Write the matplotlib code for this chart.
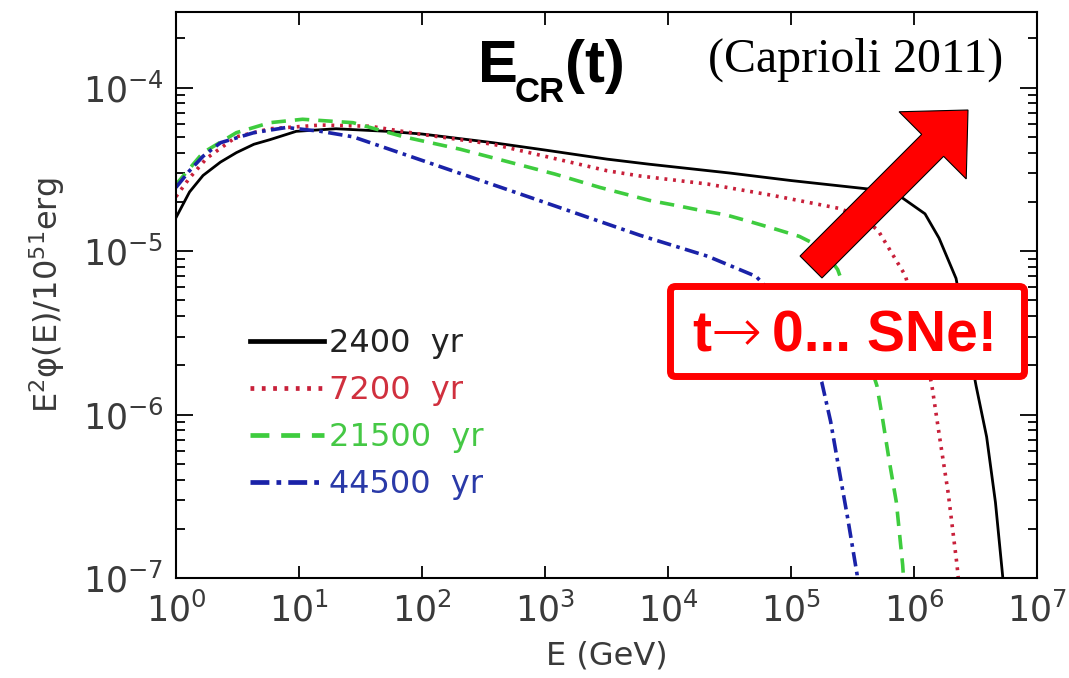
import matplotlib.pyplot as plt
from matplotlib.patches import FancyArrow, FancyBboxPatch
from matplotlib.ticker import LogLocator, NullLocator

# E (GeV) and E^2 phi(E) / 1e51 erg for each SNR age
E_2400 = [1.0, 1.29, 1.66, 2.3, 3.1, 4.3, 5.8, 9.5, 20, 52, 100, 380, 1e3, 3.2e3,
          7e3, 3.2e4, 1e5, 4.2e5, 7.8e5, 1.23e6, 1.6e6, 2.2e6, 3.2e6, 3.9e6, 4.6e6,
          5.25e6, 5.6e6]
phi_2400 = [1.6e-5, 2.3e-5, 2.9e-5, 3.5e-5, 4.0e-5, 4.5e-5, 4.8e-5, 5.4e-5, 5.6e-5,
            5.4e-5, 5.2e-5, 4.6e-5, 4.15e-5, 3.65e-5, 3.4e-5, 3.0e-5, 2.7e-5, 2.4e-5,
            2.15e-5, 1.69e-5, 1.2e-5, 6.8e-6, 1.5e-6, 7.3e-7, 2.9e-7, 1.05e-7, 6e-8]

E_7200 = [1.0, 1.29, 1.78, 3.1, 5.8, 15, 38, 95, 380, 1e3, 3.2e3, 5.9e3, 2.1e4, 7.1e4,
          2.5e5, 3.8e5, 5.1e5, 8.5e5, 1.1e6, 1.4e6, 1.62e6, 1.9e6, 2.24e6, 2.45e6]
phi_7200 = [2.15e-5, 2.8e-5, 3.7e-5, 5.0e-5, 5.6e-5, 5.9e-5, 5.8e-5, 5.2e-5, 4.5e-5,
            3.8e-5, 3.1e-5, 2.88e-5, 2.57e-5, 2.19e-5, 1.82e-5, 1.6e-5, 1.34e-5, 7.1e-6,
            3.6e-6, 1.5e-6, 7.2e-7, 3.3e-7, 1.2e-7, 6e-8]

E_21500 = [1.0, 1.66, 3.1, 5.8, 10.7, 27.5, 71, 204, 1.2e3, 2.8e3, 7.1e3, 1.17e4,
           1.8e4, 3.0e4, 4.7e4, 7.8e4, 1.17e5, 1.78e5, 2.4e5, 3.5e5, 5.0e5, 5.6e5,
           6.3e5, 7.2e5, 8.1e5, 8.6e5]
phi_21500 = [2.55e-5, 4.0e-5, 5.3e-5, 6.1e-5, 6.4e-5, 6.1e-5, 5.0e-5, 4.2e-5, 2.96e-5,
             2.45e-5, 2.04e-5, 1.9e-5, 1.78e-5, 1.66e-5, 1.51e-5, 1.35e-5, 1.23e-5,
             1.05e-5, 7.7e-6, 3.5e-6, 1.5e-6, 9.1e-7, 5.2e-7, 2.9e-7, 1.2e-7, 6e-8]

E_44500 = [1.0, 1.29, 1.66, 2.3, 4.3, 7.9, 15, 27.5, 80, 800, 5.9e3, 2.1e4, 5.2e4,
           1.0e5, 1.78e5, 2.1e5, 2.5e5, 2.9e5, 3.45e5, 3.6e5]
phi_44500 = [2.45e-5, 3.1e-5, 3.8e-5, 4.6e-5, 5.3e-5, 5.7e-5, 5.4e-5, 5.0e-5, 3.8e-5,
             2.1e-5, 1.25e-5, 9.3e-6, 7.0e-6, 4.2e-6, 1.58e-6, 9.1e-7, 4.3e-7, 2.3e-7,
             1.05e-7, 6e-8]

ages = ["2400  yr", "7200  yr", "21500  yr", "44500  yr"]
line_colors = ["black", "#c8203a", "#3ecc3e", "#1a22a8"]
text_colors = ["#222222", "#d0303e", "#45c845", "#2a3aa8"]

fig = plt.figure(figsize=(10.69, 6.78), dpi=100)
ax = fig.add_axes([0.1646, 0.1475, 0.8054, 0.8348])

ax.plot(E_2400, phi_2400, color=line_colors[0], lw=2.0, ls="-", label=ages[0])
ax.plot(E_7200, phi_7200, color=line_colors[1], lw=2.6, ls=(0, (0.8, 1.6)), label=ages[1])
ax.plot(E_21500, phi_21500, color=line_colors[2], lw=2.6, ls=(0, (4, 2.5)), label=ages[2])
ax.plot(E_44500, phi_44500, color=line_colors[3], lw=2.6, ls=(0, (4, 1.5, 1, 1.5)), label=ages[3])

ax.set_xscale("log")
ax.set_yscale("log")
ax.set_xlim(1, 1e7)
ax.set_ylim(1e-7, 2.9e-4)
ax.xaxis.set_major_locator(LogLocator(base=10, numticks=10))
ax.xaxis.set_minor_locator(NullLocator())
ax.yaxis.set_minor_locator(LogLocator(base=10, subs=range(2, 10), numticks=20))

for s in ax.spines.values():
    s.set_linewidth(1.5)
ax.tick_params(which="both", direction="in", top=True, right=True, width=1.3,
               labelsize=25, labelcolor="#3a3a3a")
ax.tick_params(axis="x", which="major", length=9, pad=10)
ax.tick_params(axis="y", which="major", length=12, pad=9)
ax.tick_params(axis="y", which="minor", length=6.5)

ax.set_xlabel("E (GeV)", fontsize=23, color="#3a3a3a", labelpad=9)
ax.set_ylabel("E$^2$\u03c6(E)/10$^{51}$erg", fontsize=23, color="#3a3a3a", labelpad=11)

leg = ax.legend(loc="upper left", bbox_to_anchor=(0.068, 0.47), frameon=False,
                fontsize=23, handlelength=2.3, handletextpad=0.15, labelspacing=0.5,
                borderpad=0, labelcolor=text_colors)
for ln in leg.get_lines():
    ln.set_linewidth(3.4)

# heading pieces, placed in inches from the lower-left corner
inch = fig.dpi_scale_trans
ax.text(4.78, 5.96, "E", transform=inch, fontsize=43, fontweight="bold",
        family="Liberation Sans", va="baseline")
ax.text(5.15, 5.76, "CR", transform=inch, fontsize=25, fontweight="bold",
        family="Liberation Sans", va="baseline")
ax.text(5.65, 5.96, "(t)", transform=inch, fontsize=43, fontweight="bold",
        family="Liberation Sans", va="baseline")
ax.text(10.03, 6.06, "(Caprioli 2011)", transform=inch, fontsize=34.5,
        family="Liberation Serif", ha="right", va="baseline")

# red arrow and boxed remark
arrow = FancyArrow(8.11, 4.11, 1.57, 1.57, width=0.31, head_width=0.95, head_length=0.5,
                   length_includes_head=True, facecolor="#ff0000", edgecolor="black",
                   linewidth=0.8, transform=inch, zorder=5)
fig.add_artist(arrow)

box = FancyBboxPatch((6.705, 3.015), 3.54, 0.90, boxstyle="round,pad=0,rounding_size=0.05",
                     facecolor="white", edgecolor="#ff0000", linewidth=5.0,
                     transform=inch, zorder=6)
fig.add_artist(box)
fig.text(6.92, 3.26, "t", transform=inch, color="#ff0000", fontsize=41,
         fontweight="bold", family="Liberation Sans", va="baseline", zorder=7)
fig.text(7.11, 3.26, "\u2192", transform=inch, color="#ff0000", fontsize=44,
         fontweight=200, family="DejaVu Sans", va="baseline", zorder=7)
fig.text(7.72, 3.26, "0... SNe!", transform=inch, color="#ff0000", fontsize=41,
         fontweight="bold", family="Liberation Sans", va="baseline", zorder=7)

fig.savefig("out.png", dpi=100)
